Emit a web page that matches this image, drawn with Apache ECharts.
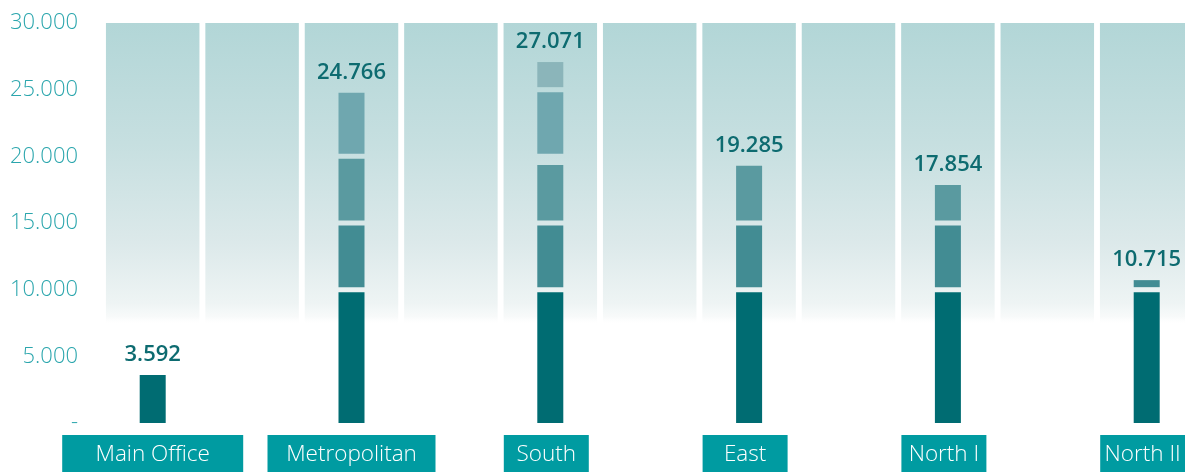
<!DOCTYPE html>
<html>
<head>
<meta charset="utf-8">
<script src="https://cdn.jsdelivr.net/npm/echarts@6/dist/echarts.min.js"></script>
<style>
  html, body { margin: 0; padding: 0; background: #ffffff; }
  #chart { width: 1185px; height: 472px; }
</style>
</head>
<body>
<div id="chart"></div>
<script>
// Offices shown along the bottom
const categories = ['Main Office', 'Metropolitan', 'South', 'East', 'North I', 'North II'];

// Amount filled inside each band of the scale, per office
const band0to10k  = [3592, 10000, 10000, 10000, 10000, 10000];
const band10to15k = [0,     5000,  5000,  5000,  5000,   715];
const band15to20k = [0,     5000,  4350,  4285,  2854,     0];
const band20to25k = [0,     4766,  5000,     0,     0,     0];
const band25to30k = [0,        0,  2071,     0,     0,     0];

const bandStarts = [0, 10000, 15000, 20000, 25000];
const bandEnds   = [10000, 15000, 20000, 25000, 30000];

// Value axis ticks
const yTicks = [0, 5000, 10000, 15000, 20000, 25000, 30000];

// Column slots: every office is followed by an empty column
const slots = ['Main Office', 'gap1', 'Metropolitan', 'gap2', 'South', 'gap3',
               'East', 'gap4', 'North I', 'gap5', 'North II'];

const bandColors = ['#006c72', '#428c93', '#5a9aa0', '#6fa7af', '#8bb5ba'];
const BAR_W = 26;
const GAP = 5;
const FONT = '"Open Sans", "Noto Sans", sans-serif';

function fmt(n) {
  if (n === 0) return '-';
  return String(n).replace(/\B(?=(\d{3})+(?!\d))/g, '.');
}

// One record per drawn segment: [slot, from, to, band, isTopSegment]
const bands = [band0to10k, band10to15k, band15to20k, band20to25k, band25to30k];
const segments = [];
categories.forEach((name, i) => {
  let top = -1;
  bands.forEach((b, k) => { if (b[i] > 0) top = k; });
  bands.forEach((b, k) => {
    if (b[i] > 0) {
      segments.push([slots.indexOf(name), bandStarts[k], bandStarts[k] + b[i], k, k === top ? 1 : 0]);
    }
  });
});

const chart = echarts.init(document.getElementById('chart'), null, { renderer: 'canvas' });

const boxStyle = (w) => ({
  backgroundColor: '#009ba1',
  color: '#ffffff',
  width: w,
  height: 40,
  lineHeight: 40,
  align: 'center',
  fontSize: 22.5,
  fontWeight: 300,
  fontFamily: FONT
});

chart.setOption({
  animation: false,
  backgroundColor: '#ffffff',
  grid: { left: 103, top: 23, width: 1093.4, height: 400, outerBoundsMode: 'none', containLabel: false },
  xAxis: {
    type: 'category',
    data: slots,
    boundaryGap: true,
    axisLine: { show: false },
    axisTick: { show: false },
    splitLine: { show: false },
    axisLabel: {
      interval: 0,
      margin: 12,
      formatter: (v) => {
        if (categories.indexOf(v) < 0) return '';
        if (v === 'Main Office') return '{wide|' + v + '}';
        if (v === 'Metropolitan') return '{mid|' + v + '}';
        return '{short|' + v + '}{pad|}';
      },
      rich: {
        wide: boxStyle(181),
        mid: boxStyle(168),
        short: boxStyle(85),
        pad: { width: 8, height: 40 }
      }
    }
  },
  yAxis: {
    type: 'value',
    min: yTicks[0],
    max: yTicks[yTicks.length - 1],
    interval: yTicks[1] - yTicks[0],
    axisLine: { show: false },
    axisTick: { show: false },
    splitLine: { show: false },
    axisLabel: {
      margin: 25,
      color: '#2ba6ad',
      fontSize: 22,
      fontWeight: 300,
      fontFamily: FONT,
      formatter: (v) => fmt(v)
    }
  },
  series: [
    {
      // pale backdrop columns fading out toward the bottom
      type: 'bar',
      silent: true,
      barWidth: 93.5,
      z: 1,
      data: slots.map(() => yTicks[yTicks.length - 1]),
      itemStyle: {
        color: new echarts.graphic.LinearGradient(0, 0, 0, 1, [
          { offset: 0, color: '#b2d6d7' },
          { offset: 0.3, color: '#c6dfe0' },
          { offset: 0.55, color: '#dce9ea' },
          { offset: 0.7, color: '#eef4f4' },
          { offset: 0.735, color: '#f8fafa' },
          { offset: 0.755, color: 'rgba(255,255,255,0)' },
          { offset: 1, color: 'rgba(255,255,255,0)' }
        ])
      }
    },
    {
      // banded office bars with value labels
      type: 'custom',
      z: 3,
      encode: { x: 0, y: [1, 2] },
      data: segments,
      renderItem: (params, api) => {
        const slot = api.value(0);
        const lo = api.value(1);
        const hi = api.value(2);
        const k = api.value(3);
        const isTop = api.value(4) === 1;
        const x = api.coord([slot, 0])[0];
        let yBottom = api.coord([slot, lo])[1];
        let yTop = api.coord([slot, hi])[1];
        if (lo > 0) yBottom -= GAP / 2;
        if (hi >= bandEnds[k] && !isTop) yTop += GAP / 2;
        const children = [{
          type: 'rect',
          shape: { x: x - BAR_W / 2, y: yTop, width: BAR_W, height: yBottom - yTop },
          style: { fill: bandColors[k] }
        }];
        if (isTop) {
          children.push({
            type: 'text',
            style: {
              text: fmt(hi),
              x: x,
              y: yTop - 20,
              align: 'center',
              verticalAlign: 'middle',
              fill: '#0d6b70',
              fontSize: 22,
              fontWeight: 600,
              fontFamily: FONT
            }
          });
        }
        return { type: 'group', children: children };
      }
    }
  ]
});
</script>
</body>
</html>
